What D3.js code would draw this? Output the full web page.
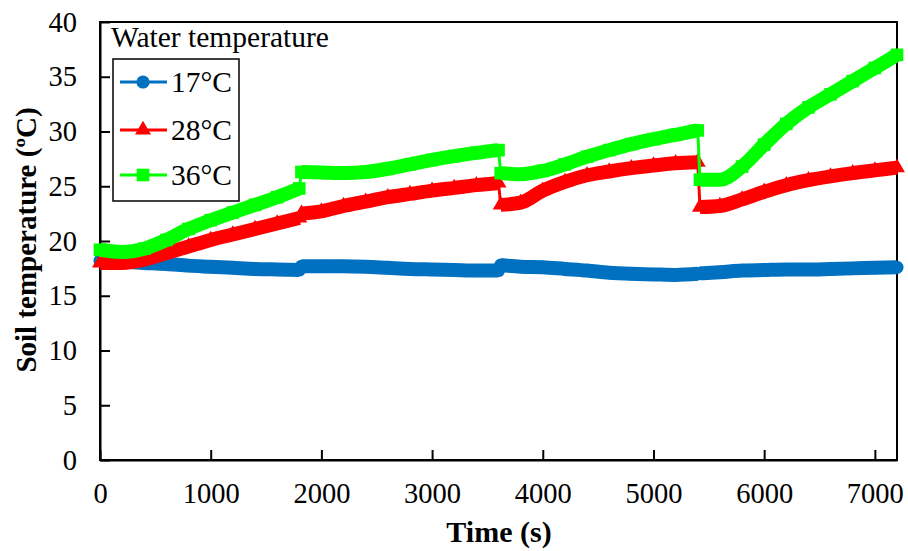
<!DOCTYPE html>
<html>
<head>
<meta charset="utf-8">
<script src="https://cdn.jsdelivr.net/npm/d3@7"></script>
<style>
  body { margin: 0; background: #fff; }
  svg, svg text { font-family: "Liberation Serif", Tinos, "Times New Roman", "DejaVu Serif", serif; }
</style>
</head>
<body>
<svg id="chart" width="908" height="551"></svg>
<script>
// ---- data ----
const times = [0,200,400,600,800,1000,1200,1400,1600,1800,1820,
  2000,2200,2400,2600,2800,3000,3200,3400,3600,3620,
  3800,4000,4200,4400,4600,4800,5000,5200,5400,5420,
  5600,5800,6000,6200,6400,6600,6800,7000,7200];

const water17 = [18.2,18.1,18.0,17.9,17.75,17.65,17.55,17.45,17.4,17.35,17.7,
  17.7,17.7,17.65,17.55,17.45,17.4,17.35,17.3,17.3,17.8,
  17.65,17.6,17.45,17.3,17.1,17.0,16.95,16.9,17.0,17.05,
  17.15,17.3,17.35,17.4,17.4,17.45,17.5,17.55,17.6];

const water28 = [18.0,18.0,18.3,18.9,19.5,20.1,20.6,21.1,21.6,22.1,22.5,
  22.7,23.2,23.6,24.0,24.3,24.6,24.85,25.1,25.3,23.3,
  23.5,24.6,25.4,26.0,26.35,26.65,26.9,27.1,27.2,23.1,
  23.2,23.8,24.5,25.1,25.55,25.9,26.2,26.45,26.7];

const water36 = [19.2,19.0,19.3,20.1,21.1,21.9,22.6,23.3,24.0,24.8,26.3,
  26.25,26.2,26.3,26.6,27.0,27.4,27.75,28.05,28.3,26.2,
  26.1,26.4,27.0,27.7,28.3,28.85,29.3,29.7,30.1,25.6,
  25.6,26.8,28.8,30.7,32.2,33.4,34.6,35.8,37.0];

const seriesNames = ["17°C", "28°C", "36°C"];
const xTicks = [0,1000,2000,3000,4000,5000,6000,7000];
const yTicks = [0,5,10,15,20,25,30,35,40];
const legendTitle = "Water temperature";
const xTitle = "Time (s)";
const yTitle = "Soil temperature (ºC)";

// ---- drawing ----
const FONT = '"Liberation Serif", Tinos, "Times New Roman", "DejaVu Serif", serif';
const svg = d3.select("#chart");
const L = 100, R = 897, T = 22, B = 460;
const x = d3.scaleLinear().domain([0, 7200]).range([L, R]);
const y = d3.scaleLinear().domain([0, 40]).range([B, T]);

const series = [
  { name: seriesNames[0], values: water17, color: "#0070C0", shape: "circle" },
  { name: seriesNames[1], values: water28, color: "#FF0000", shape: "triangle" },
  { name: seriesNames[2], values: water36, color: "#00FF00", shape: "square" }
];

const symType = { circle: d3.symbolCircle, triangle: d3.symbolTriangle, square: d3.symbolSquare };
const symSize = { circle: 135, triangle: 110, square: 160 };

// frame
svg.append("rect").attr("x", L).attr("y", T).attr("width", R - L).attr("height", B - T)
  .attr("fill", "none").attr("stroke", "#000").attr("stroke-width", 2);

// axes
const fs = 28.5;
const xAxis = d3.axisBottom(x).tickValues(xTicks).tickSizeInner(-10).tickSizeOuter(0).tickPadding(23).tickFormat(d3.format("d"));
const gx = svg.append("g").attr("transform", `translate(0,${B})`).call(xAxis);
const yAxis = d3.axisLeft(y).tickValues(yTicks).tickSizeInner(-10).tickSizeOuter(0).tickPadding(23).tickFormat(d3.format("d"));
const gy = svg.append("g").attr("transform", `translate(${L},0)`).call(yAxis);
[gx, gy].forEach(g => {
  g.attr("font-family", FONT).attr("font-size", fs);
  g.selectAll("path.domain").attr("stroke", "#000").attr("stroke-width", 2);
  g.selectAll(".tick line").attr("stroke", "#000").attr("stroke-width", 2);
  g.selectAll(".tick text").attr("font-family", FONT).attr("font-size", fs).attr("fill", "#000");
});

// series
series.forEach(s => {
  const pts = times.map((t, i) => ({ t, v: s.values[i], i }));
  const g = svg.append("g");
  g.append("path").datum(pts)
    .attr("fill", "none").attr("stroke", s.color).attr("stroke-width", 3)
    .attr("d", d3.line().x(d => x(d.t)).y(d => y(d.v)));
  // dense-marker band: split into segments at the temperature steps
  const segs = [];
  let cur = [pts[0]];
  for (let i = 1; i < pts.length; i++) {
    if (pts[i].t - pts[i - 1].t < 50) { segs.push(cur); cur = [pts[i]]; }
    else cur.push(pts[i]);
  }
  segs.push(cur);
  segs.forEach(seg => {
    g.append("path").datum(seg)
      .attr("fill", "none").attr("stroke", s.color).attr("stroke-width", 14)
      .attr("stroke-linejoin", "round")
      .attr("d", d3.line().curve(d3.curveMonotoneX).x(d => x(d.t)).y(d => y(d.v)));
  });
  g.selectAll("path.mk").data(pts).join("path").attr("class", "mk")
    .attr("transform", d => `translate(${x(d.t)},${y(d.v)})`)
    .attr("d", d3.symbol().type(symType[s.shape]).size(symSize[s.shape]))
    .attr("fill", s.color);
});

// legend
svg.append("text").attr("x", 111).attr("y", 47).attr("font-family", FONT).attr("font-size", 29.5).attr("fill", "#000").text(legendTitle);
svg.append("rect").attr("x", 113).attr("y", 59).attr("width", 126).attr("height", 142)
  .attr("fill", "#fff").attr("stroke", "#000").attr("stroke-width", 1.5);
const legY = [82, 130, 175];
series.forEach((s, i) => {
  const ly = legY[i];
  svg.append("line").attr("x1", 120).attr("x2", 167).attr("y1", ly).attr("y2", ly)
    .attr("stroke", s.color).attr("stroke-width", 3);
  svg.append("path").attr("transform", `translate(143,${ly})`)
    .attr("d", d3.symbol().type(symType[s.shape]).size(symSize[s.shape])).attr("fill", s.color);
  svg.append("text").attr("x", 171).attr("y", ly + 10).attr("font-family", FONT).attr("font-size", 29.5).attr("fill", "#000").text(s.name);
});

// axis titles
svg.append("text").attr("x", 499).attr("y", 542).attr("text-anchor", "middle").attr("font-family", FONT)
  .attr("font-size", 30).attr("font-weight", "bold").attr("fill", "#000").text(xTitle);
svg.append("text").attr("transform", `translate(36,${240}) rotate(-90)`).attr("text-anchor", "middle").attr("font-family", FONT)
  .attr("font-size", 29).attr("font-weight", "bold").attr("fill", "#000").text(yTitle);
</script>
</body>
</html>
